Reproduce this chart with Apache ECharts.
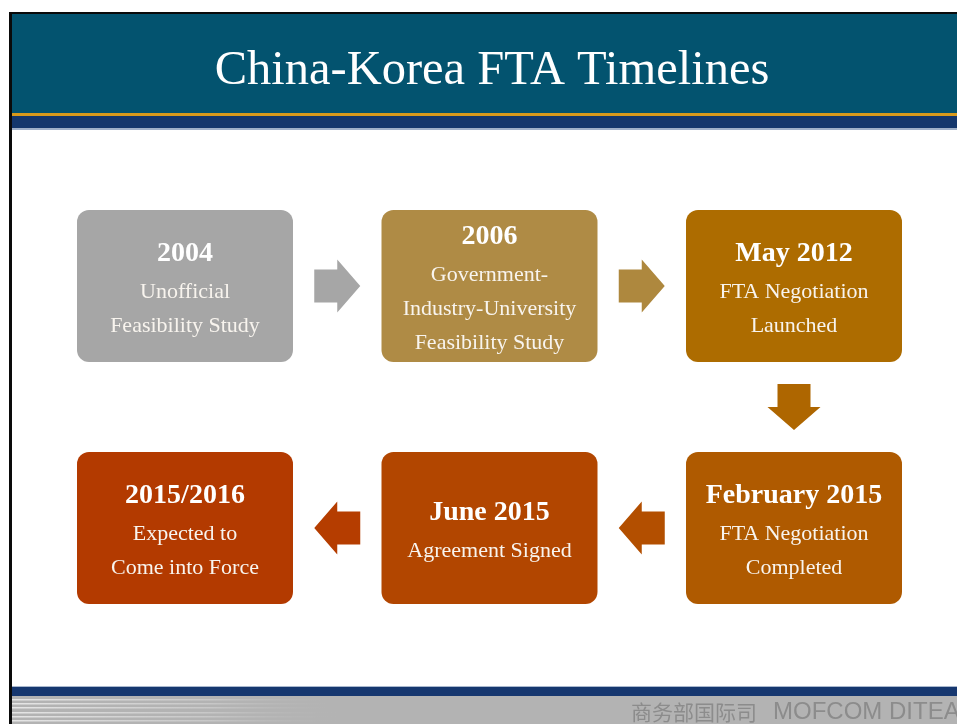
<!DOCTYPE html>
<html>
<head>
<meta charset="utf-8">
<script src="https://cdn.jsdelivr.net/npm/echarts@6/dist/echarts.min.js"></script>
<style>
html,body{margin:0;padding:0;background:#fff;}
#chart{width:957px;height:724px;}
</style>
</head>
<body>
<div id="chart"></div>
<script>
// ---- data ----
const titleText = 'China-Korea FTA Timelines';
const footerChinese = '商务部国际司';
const footerLatin = 'MOFCOM DITEA';
const columns = ['c1', 'c2', 'c3'];
const rows = ['r1', 'r2'];
const stageDates = ['2004', '2006', 'May 2012', 'February 2015', 'June 2015', '2015/2016'];
const stageDescriptions = [
  ['Unofficial', 'Feasibility Study'],
  ['Government-', 'Industry-University', 'Feasibility Study'],
  ['FTA Negotiation', 'Launched'],
  ['FTA Negotiation', 'Completed'],
  ['Agreement Signed'],
  ['Expected to', 'Come into Force']
];
const stageColumns = ['c1', 'c2', 'c3', 'c3', 'c2', 'c1'];
const stageRows = ['r1', 'r1', 'r1', 'r2', 'r2', 'r2'];
const arrowFrom = [0, 1, 2, 3, 4];
const arrowTo = [1, 2, 3, 4, 5];

// ---- styles ----
const boxColors = ['#A6A6A6', '#AF8B45', '#AD6C00', '#AF5A00', '#B24600', '#B33A00'];
const arrowColors = ['#A6A6A6', '#AE883E', '#AE6600', '#B34F00', '#B53D00'];
const FONT = '"Liberation Serif", "DejaVu Serif", serif';
const BOX_W = 216, BOX_H = 152;

const chart = echarts.init(document.getElementById('chart'));

const boxData = stageDates.map((d, i) => [stageColumns[i], stageRows[i], i]);
const arrowData = arrowFrom.map((f, i) => [stageColumns[f], stageRows[f], stageColumns[arrowTo[i]], stageRows[arrowTo[i]], i]);

function renderBox(params, api) {
  const i = api.value(2);
  const c = api.coord([stageColumns[i], stageRows[i]]);
  const lines = ['{t|' + stageDates[i] + '}'].concat(stageDescriptions[i].map(s => '{b|' + s + '}'));
  return {
    type: 'group',
    children: [
      {
        type: 'rect',
        shape: { x: c[0] - BOX_W / 2, y: c[1] - BOX_H / 2, width: BOX_W, height: BOX_H, r: 12 },
        style: { fill: boxColors[i] }
      },
      {
        type: 'text',
        style: {
          x: c[0], y: c[1] + 2,
          text: lines.join('\n'),
          align: 'center', verticalAlign: 'middle',
          fill: '#fff',
          rich: {
            t: { fontFamily: FONT, fontWeight: 'bold', fontSize: 28, lineHeight: 42, fill: '#fff', align: 'center' },
            b: { fontFamily: FONT, fontSize: 22, lineHeight: 34, fill: '#f8f4ee', align: 'center' }
          }
        }
      }
    ]
  };
}

function renderArrow(params, api) {
  const i = api.value(4);
  const a = api.coord([stageColumns[arrowFrom[i]], stageRows[arrowFrom[i]]]);
  const b = api.coord([stageColumns[arrowTo[i]], stageRows[arrowTo[i]]]);
  const cx = (a[0] + b[0]) / 2, cy = (a[1] + b[1]) / 2;
  const dx = Math.sign(b[0] - a[0]), dy = Math.sign(b[1] - a[1]);
  const L = 46, HW = 26.5, SW = 16.5, HL = 23;
  const pts = [[-L / 2, -SW], [L / 2 - HL, -SW], [L / 2 - HL, -HW], [L / 2, 0], [L / 2 - HL, HW], [L / 2 - HL, SW], [-L / 2, SW]];
  const rot = (p) => {
    if (dx === 1) return [cx + p[0], cy + p[1]];
    if (dx === -1) return [cx - p[0], cy + p[1]];
    if (dy === 1) return [cx + p[1], cy + p[0]];
    return [cx + p[1], cy - p[0]];
  };
  return {
    type: 'polygon',
    shape: { points: pts.map(rot) },
    style: { fill: arrowColors[i] }
  };
}

// footer streaks
const streaks = [];
[699, 703, 707, 712, 716, 720].forEach((y) => {
  streaks.push({
    type: 'rect', silent: true,
    shape: { x: 12, y: y, width: 330, height: 1.5 },
    style: {
      fill: new echarts.graphic.LinearGradient(0, 0, 1, 0, [
        { offset: 0, color: 'rgba(235,235,235,0.9)' },
        { offset: 0.6, color: 'rgba(220,220,220,0.5)' },
        { offset: 1, color: 'rgba(179,179,179,0)' }
      ])
    }
  });
});

chart.setOption({
  animation: false,
  backgroundColor: '#ffffff',
  graphic: [
    { type: 'rect', silent: true, z: -10, shape: { x: 9, y: 12, width: 948, height: 712 }, style: { fill: '#ffffff' } },
    { type: 'rect', silent: true, z: -5, shape: { x: 12, y: 14, width: 945, height: 99 }, style: { fill: '#03536F' } },
    { type: 'rect', silent: true, z: -5, shape: { x: 12, y: 113, width: 945, height: 3 }, style: { fill: '#D89A1C' } },
    { type: 'rect', silent: true, z: -5, shape: { x: 12, y: 116, width: 945, height: 12 }, style: { fill: '#14376C' } },
    { type: 'rect', silent: true, z: -5, shape: { x: 12, y: 128, width: 945, height: 2 }, style: { fill: '#9FB0C8' } },
    { type: 'rect', silent: true, z: -5, shape: { x: 12, y: 686, width: 945, height: 1.5 }, style: { fill: '#A9B8CE' } },
    { type: 'rect', silent: true, z: -5, shape: { x: 12, y: 687, width: 945, height: 9 }, style: { fill: '#16376F' } },
    { type: 'rect', silent: true, z: -5, shape: { x: 12, y: 696, width: 945, height: 28 }, style: { fill: '#B3B3B3' } },
    { type: 'group', silent: true, z: -4, children: streaks },
    { type: 'text', silent: true, z: -3, style: {
        x: 631, y: 712,
        text: '{c|' + footerChinese + '}{l|' + footerLatin + '}',
        verticalAlign: 'middle', align: 'left',
        rich: {
          c: { fill: '#8C8C8C', fontFamily: '"Noto Sans CJK SC", sans-serif', fontSize: 21 },
          l: { fill: '#8C8C8C', fontFamily: '"Liberation Sans", sans-serif', fontSize: 24, padding: [0, 0, 0, 16] }
        }
    } },
    { type: 'rect', silent: true, z: 10, shape: { x: 9, y: 12, width: 948, height: 2 }, style: { fill: '#0A0A0A' } },
    { type: 'rect', silent: true, z: 10, shape: { x: 9, y: 12, width: 3, height: 712 }, style: { fill: '#0A0A0A' } }
  ],
  title: {
    text: titleText,
    left: 487, top: 66,
    textAlign: 'center', textVerticalAlign: 'middle',
    textStyle: { color: '#ffffff', fontFamily: FONT, fontWeight: 'normal', fontSize: 48.5 }
  },
  grid: { left: 32.75, right: 10.75, top: 165, bottom: 75 },
  xAxis: { type: 'category', data: columns, show: false },
  yAxis: { type: 'category', data: rows, inverse: true, show: false },
  series: [
    { type: 'custom', renderItem: renderArrow, data: arrowData, encode: { x: 0, y: 1 }, silent: true },
    { type: 'custom', renderItem: renderBox, data: boxData, encode: { x: 0, y: 1 }, silent: true }
  ]
});
</script>
</body>
</html>
